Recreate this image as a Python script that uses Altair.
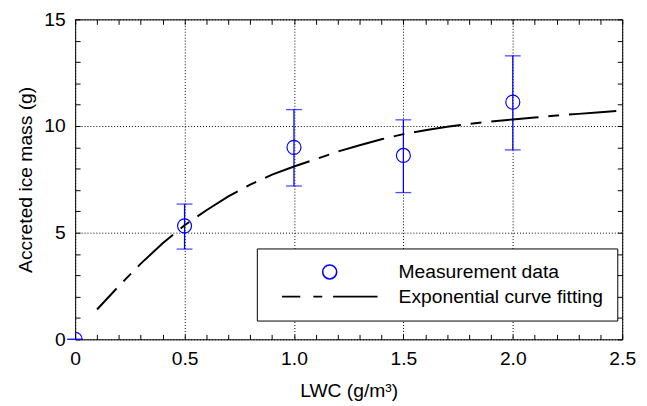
import altair as alt
import pandas as pd

lwc = [0.0, 0.5, 1.0, 1.5, 2.0]
mass = [0.0, 5.32, 9.00, 8.62, 11.12]
err_lo = [0.0, 4.23, 7.19, 6.88, 8.88]
err_hi = [0.0, 6.34, 10.77, 10.29, 13.29]

# Exponential fitting curve
fit_x = [0.1, 0.2, 0.3, 0.4, 0.5, 0.6, 0.7, 0.8, 0.9, 1.0, 1.1, 1.2, 1.3,
         1.4, 1.5, 1.6, 1.7, 1.8, 1.9, 2.0, 2.1, 2.2, 2.3, 2.4, 2.5]
fit_y = [1.40, 2.50, 3.55, 4.50, 5.35, 6.05, 6.70, 7.25, 7.72, 8.10, 8.45,
         8.80, 9.10, 9.38, 9.62, 9.80, 9.97, 10.10, 10.21, 10.31, 10.40,
         10.49, 10.57, 10.65, 10.72]

x_ticks = [0, 0.5, 1.0, 1.5, 2.0, 2.5]
y_ticks = [0, 5, 10, 15]
x_minor = [round(i * 0.1, 1) for i in range(26)]
y_minor = list(range(16))

series_names = ["Measurement data", "Exponential curve fitting"]

meas = pd.DataFrame({"lwc": lwc, "mass": mass, "lo": err_lo, "hi": err_hi,
                     "series": series_names[0]})
caps = pd.DataFrame({"lwc": lwc + lwc, "v": err_lo + err_hi})
fit = pd.DataFrame({"lwc": fit_x, "mass": fit_y})

FONT = "Liberation Sans"
BLUE = "#0000ff"
FS = 19.5
xscale = alt.Scale(domain=[0, 2.5], nice=False, zero=False)
yscale = alt.Scale(domain=[0, 15], nice=False, zero=False)

main_x_axis = alt.Axis(values=x_ticks, orient="bottom", grid=True, gridDash=[1, 2],
                       gridColor="black", gridOpacity=1, ticks=False, domain=False,
                       labelPadding=11, labelFlush=False,
                       labelExpr="datum.value == 0 ? '0' : format(datum.value, '.1f')",
                       titlePadding=13)
main_y_axis = alt.Axis(values=y_ticks, orient="left", grid=True, gridDash=[1, 2],
                       gridColor="black", gridOpacity=1, ticks=False, domain=False,
                       labelPadding=10, format="d", titlePadding=8)

errbars = alt.Chart(meas).mark_rule(color=BLUE, strokeWidth=1.3).encode(
    x=alt.X("lwc:Q", scale=xscale, axis=main_x_axis, title="LWC (g/m³)"),
    y=alt.Y("lo:Q", scale=yscale, axis=main_y_axis, title="Accreted ice mass (g)"),
    y2="hi:Q",
)

cap_marks = alt.Chart(caps).mark_tick(color=BLUE, orient="horizontal", size=16,
                                      thickness=1.3).encode(
    x=alt.X("lwc:Q", scale=xscale, axis=None),
    y=alt.Y("v:Q", scale=yscale, axis=None),
)

points = alt.Chart(meas).mark_point(filled=False, size=201, strokeWidth=1.2,
                                    clip=True, opacity=1).encode(
    x=alt.X("lwc:Q", scale=xscale, axis=None),
    y=alt.Y("mass:Q", scale=yscale, axis=None),
    color=alt.Color("series:N", title=None,
                    scale=alt.Scale(domain=series_names, range=[BLUE, "black"]),
                    legend=alt.Legend(orient="none", legendX=184, legendY=232,
                                      strokeColor="black", fillColor="white",
                                      padding=14, labelFont=FONT, labelFontSize=FS,
                                      labelColor="black", symbolSize=201,
                                      symbolStrokeWidth=1.6, symbolOffset=50,
                                      labelOffset=60, rowPadding=3, labelLimit=500)),
    shape=alt.Shape("series:N", title=None,
                    scale=alt.Scale(domain=series_names,
                                    range=["circle",
                                           "M-6.8,0H-4.2M-2.33,0H-1.06M0.49,0H6.84"])),
)

curve = alt.Chart(fit).mark_line(color="black", strokeWidth=2,
                                 strokeDash=[48, 10, 11, 10], strokeDashOffset=19,
                                 strokeCap="butt").encode(
    x=alt.X("lwc:Q", scale=xscale, axis=None),
    y=alt.Y("mass:Q", scale=yscale, axis=None),
)

tick_style = dict(labels=False, domain=False, grid=False, ticks=True,
                  tickColor="black", tickSize=5, tickWidth=1, offset=-5)

inner_bl = alt.Chart(meas).mark_point(opacity=0).encode(
    x=alt.X("lwc:Q", scale=xscale, title=None,
            axis=alt.Axis(values=x_minor, orient="bottom", **tick_style)),
    y=alt.Y("mass:Q", scale=yscale, title=None,
            axis=alt.Axis(values=y_minor, orient="left", **tick_style)),
)
inner_tr = alt.Chart(meas).mark_point(opacity=0).encode(
    x=alt.X("lwc:Q", scale=xscale, title=None,
            axis=alt.Axis(values=x_minor, orient="top", **tick_style)),
    y=alt.Y("mass:Q", scale=yscale, title=None,
            axis=alt.Axis(values=y_minor, orient="right", **tick_style)),
)

chart = alt.layer(errbars, inner_bl, inner_tr, curve, cap_marks, points).resolve_axis(
    x="independent", y="independent"
).properties(
    width=554, height=324,
    autosize=alt.AutoSizeParams(type="none"),
    padding={"left": 68, "top": 9, "right": 17, "bottom": 65},
).configure_view(
    stroke="black", strokeWidth=1
).configure_axis(
    labelFont=FONT, labelFontSize=FS, labelColor="black",
    titleFont=FONT, titleFontSize=FS, titleColor="black", titleFontWeight="normal",
)

chart.save("out.html", embed_options={"renderer": "svg", "actions": False})
